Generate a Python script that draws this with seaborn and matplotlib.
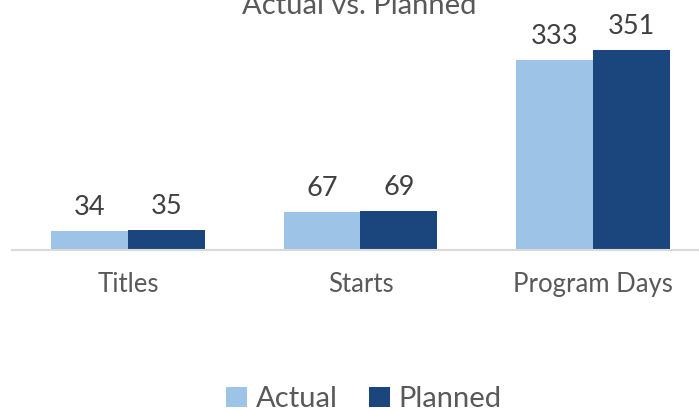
import matplotlib
matplotlib.use("Agg")
import matplotlib.pyplot as plt
import seaborn as sns
import pandas as pd
from matplotlib.patches import Patch

categories = ["Titles", "Starts", "Program Days"]
series_names = ["Actual", "Planned"]
actual = [34, 67, 333]
planned = [35, 69, 351]
title = "Actual vs. Planned"

colors = ["#9DC3E6", "#1B467D"]
text_color = "#595959"

df = pd.DataFrame({
    "category": categories * 2,
    "series": [series_names[0]] * 3 + [series_names[1]] * 3,
    "value": actual + planned,
})

sns.set_theme(style="white")
plt.rcParams["font.family"] = ["Lato", "DejaVu Sans"]

W, H = 699, 411
fig = plt.figure(figsize=(W / 100, H / 100), dpi=100)
ax = fig.add_axes([12 / W, (H - 250) / H, (W - 12) / W, 250 / H])

sns.barplot(data=df, x="category", y="value", hue="series", order=categories,
            hue_order=series_names, palette=colors, width=0.662, gap=0,
            ax=ax, legend=False, saturation=1, edgecolor="none")

ax.set_ylim(0, 351 * 250 / 200)
ax.set_xlim(-0.499, 2.456)
ax.set_xlabel("")
ax.set_ylabel("")
ax.set_yticks([])
for s in ["top", "left", "right"]:
    ax.spines[s].set_visible(False)
ax.spines["bottom"].set_color("#D9D9D9")
ax.spines["bottom"].set_linewidth(1.5)
ax.tick_params(axis="x", length=0, pad=16, labelsize=18.5, labelcolor=text_color)

for cont in ax.containers:
    for bar in cont:
        h = bar.get_height()
        ax.annotate(f"{int(round(h))}", (bar.get_x() + bar.get_width() / 2, h),
                    xytext=(0, 11.5), textcoords="offset points",
                    ha="center", va="baseline", fontsize=19.5, color="#404040")

fig.text(359 / W, 1 - 13.5 / H, title, ha="center", va="baseline",
         fontsize=21, color=text_color)

handles = [Patch(facecolor=c, edgecolor="none") for c in colors]
fig.legend(handles, series_names, loc="center", bbox_to_anchor=(364 / W, 1 - 399 / H),
           ncol=2, frameon=False, fontsize=21, labelcolor=text_color,
           handlelength=0.7, handleheight=0.7, handletextpad=0.3, columnspacing=1.1)

fig.savefig("out.png", dpi=100)
